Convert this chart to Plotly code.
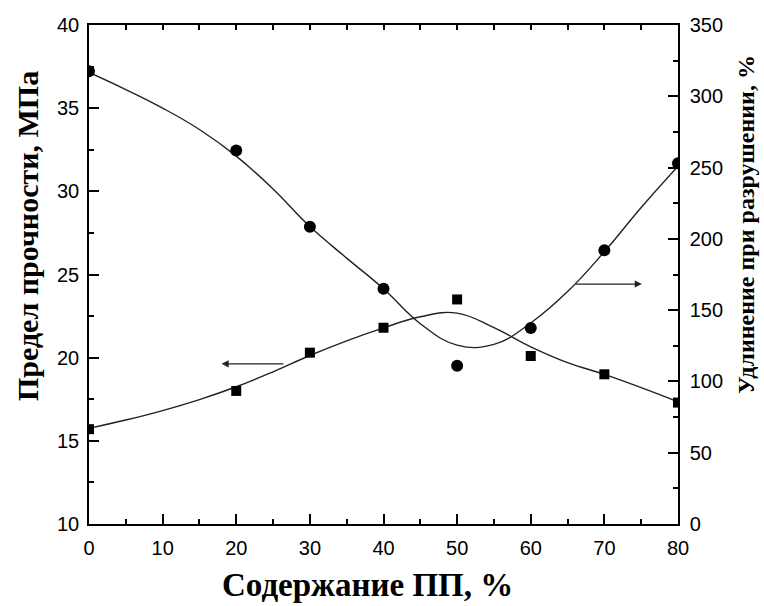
import plotly.graph_objects as go

# ---- data ----
pp_content = [0, 20, 30, 40, 50, 60, 70, 80]                       # Содержание ПП, %
strength_mpa = [15.7, 18.0, 20.3, 21.8, 23.5, 20.1, 19.0, 17.3]     # squares, left axis
elongation_pct = [317.5, 262, 208.5, 165, 111, 137.5, 192, 253]     # circles, right axis

# smooth fitted curves as drawn in the picture (read every 5 %)
curve_x = [0, 5, 10, 15, 20, 25, 30, 35, 40, 45, 50, 55, 60, 65, 70, 75, 80]
strength_curve = [15.75, 16.25, 16.82, 17.48, 18.25, 19.15, 20.13, 21.01, 21.79, 22.46, 22.68,
                  21.8, 20.65, 19.7, 19.0, 18.2, 17.35]
elong_curve = [316.7, 304.7, 291.7, 276.7, 258, 235, 208.6, 186.5, 165, 140.5, 125.5, 126,
               141, 163, 191, 222, 251]

x_ticks = [0, 10, 20, 30, 40, 50, 60, 70, 80]
left_ticks = [10, 15, 20, 25, 30, 35, 40]
right_ticks = [0, 50, 100, 150, 200, 250, 300, 350]

x_title = "Содержание ПП, %"
left_title = "Предел прочности, МПа"
right_title = "Удлинение при разрушении, %"

LINE = "#222222"
TICKFONT = dict(family="Liberation Sans, Arial, sans-serif", size=20, color="black")
TITLEFONT = "Liberation Serif, Times New Roman, serif"

fig = go.Figure()

fig.add_trace(go.Scatter(x=curve_x, y=strength_curve, mode="lines",
                         line=dict(color=LINE, width=1.4, shape="spline", smoothing=1.2),
                         xaxis="x", yaxis="y", showlegend=False, hoverinfo="skip"))
fig.add_trace(go.Scatter(x=curve_x, y=elong_curve, mode="lines",
                         line=dict(color=LINE, width=1.4, shape="spline", smoothing=1.2),
                         xaxis="x", yaxis="y2", showlegend=False, hoverinfo="skip"))
fig.add_trace(go.Scatter(x=pp_content, y=strength_mpa, mode="markers",
                         marker=dict(symbol="square", size=10, color="black"),
                         xaxis="x", yaxis="y", showlegend=False))
fig.add_trace(go.Scatter(x=pp_content, y=elongation_pct, mode="markers",
                         marker=dict(symbol="circle", size=12, color="black"),
                         xaxis="x", yaxis="y2", showlegend=False))
# invisible trace so the top (mirror) axis is drawn
fig.add_trace(go.Scatter(x=[0], y=[10], xaxis="x2", yaxis="y", mode="markers",
                         marker=dict(opacity=0), showlegend=False, hoverinfo="skip"))

axis_common = dict(showline=True, linecolor="black", linewidth=1.5, showgrid=False,
                   zeroline=False, ticks="inside", tickcolor="black", tickwidth=1.5,
                   tickfont=TICKFONT)

fig.update_layout(
    width=764, height=606,
    margin=dict(l=89, r=86, t=25, b=82),
    paper_bgcolor="white", plot_bgcolor="white",
    xaxis=dict(range=[0, 80], tickvals=x_ticks, ticklen=10,
               minor=dict(dtick=5, ticklen=5, ticks="inside", tickcolor="black", tickwidth=1.5),
               ticklabelstandoff=5, **axis_common),
    xaxis2=dict(range=[0, 80], overlaying="x", side="top", dtick=5, ticklen=5,
                showticklabels=False, showline=True, linecolor="black", linewidth=1.5,
                showgrid=False, zeroline=False, ticks="inside", tickcolor="black", tickwidth=1.5),
    yaxis=dict(range=[10, 40], tickvals=left_ticks, ticklen=10,
               minor=dict(dtick=2.5, ticklen=5, ticks="inside", tickcolor="black", tickwidth=1.5),
               ticklabelstandoff=4, **axis_common),
    yaxis2=dict(range=[0, 350], tickvals=right_ticks, overlaying="y", side="right", ticklen=10,
                minor=dict(dtick=25, ticklen=5, ticks="inside", tickcolor="black", tickwidth=1.5),
                ticklabelstandoff=6, **axis_common),
)

PX_L, PX_R, PX_T, PX_B = 89, 678, 25, 524


def px_to_paper(px, py):
    return (px - PX_L) / (PX_R - PX_L), (PX_B - py) / (PX_B - PX_T)


xt = px_to_paper(367, 585)
lt = px_to_paper(27, 236)
rt = px_to_paper(746, 225)

annotations = [
    dict(x=18.0, y=19.63, xref="x", yref="y", ax=26.6, ay=19.63, axref="x", ayref="y",
         text="", showarrow=True, arrowhead=2, arrowsize=1.1, arrowwidth=1.3, arrowcolor=LINE),
    dict(x=75.1, y=168.3, xref="x", yref="y2", ax=65.9, ay=168.3, axref="x", ayref="y2",
         text="", showarrow=True, arrowhead=2, arrowsize=1.1, arrowwidth=1.3, arrowcolor=LINE),
    dict(x=xt[0], y=xt[1], xref="paper", yref="paper", text=f"<b>{x_title}</b>",
         showarrow=False, xanchor="center", yanchor="middle",
         font=dict(family=TITLEFONT, size=33, color="black")),
    dict(x=lt[0], y=lt[1], xref="paper", yref="paper", text=f"<b>{left_title}</b>",
         showarrow=False, xanchor="center", yanchor="middle", textangle=-90,
         font=dict(family=TITLEFONT, size=30, color="black")),
    dict(x=rt[0], y=rt[1], xref="paper", yref="paper", text=f"<b>{right_title}</b>",
         showarrow=False, xanchor="center", yanchor="middle", textangle=-90,
         font=dict(family=TITLEFONT, size=24, color="black")),
]
fig.update_layout(annotations=annotations)

fig.write_html("out.html")
